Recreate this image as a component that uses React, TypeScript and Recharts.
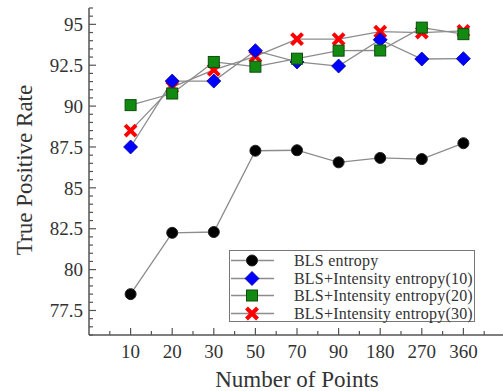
import React from 'react';
import { LineChart, Line, XAxis, YAxis } from 'recharts';

// categories on the x axis (drawn at index positions 1..9)
const categories = ['10', '20', '30', '50', '70', '90', '180', '270', '360'];

// series values
const blsEntropy = [78.5, 82.25, 82.3, 87.27, 87.3, 86.56, 86.83, 86.76, 87.73];
const intensity10 = [87.5, 91.53, 91.53, 93.39, 92.7, 92.45, 94.06, 92.88, 92.9];
const intensity20 = [90.06, 90.77, 92.7, 92.41, 92.9, 93.39, 93.4, 94.8, 94.4];
const intensity30 = [88.5, 91.16, 92.22, 93.04, 94.1, 94.1, 94.55, 94.5, 94.6];

const yMajorTicks = [77.5, 80, 82.5, 85, 87.5, 90, 92.5, 95];
const yTicks = Array.from({ length: 41 }, (_, i) => 76 + i * 0.5);
const xTicks = Array.from({ length: 20 }, (_, i) => i * 0.5 + 0.5);

const data = categories.map((label, i) => ({
    idx: i + 1,
    label,
    bls: blsEntropy[i],
    i10: intensity10[i],
    i20: intensity20[i],
    i30: intensity30[i],
}));

const FONT = '"Liberation Serif", "Times New Roman", serif';
const AXIS = '#555';
const LINE = '#8c8c8c';
const TEXT = '#333';

type Kind = 'circle' | 'diamond' | 'square' | 'cross';

const Marker = ({ kind, cx, cy }: { kind: Kind; cx: number; cy: number }) => {
    if (kind === 'circle') return <circle cx={cx} cy={cy} r={5.5} fill="#000" stroke="#222" />;
    if (kind === 'diamond')
        return (
            <path
                d={`M${cx},${cy - 7}L${cx + 7},${cy}L${cx},${cy + 7}L${cx - 7},${cy}Z`}
                fill="#0000ff"
                stroke="#0000a0"
                strokeWidth={0.8}
            />
        );
    if (kind === 'square')
        return <rect x={cx - 5.5} y={cy - 5.5} width={11} height={11} fill="#128a12" stroke="#0b4d0b" strokeWidth={1} />;
    return (
        <g stroke="#ff0000" strokeWidth={4}>
            <line x1={cx - 5.5} y1={cy - 5.5} x2={cx + 5.5} y2={cy + 5.5} />
            <line x1={cx - 5.5} y1={cy + 5.5} x2={cx + 5.5} y2={cy - 5.5} />
        </g>
    );
};

const makeDot = (kind: Kind) => (p: any) =>
    <Marker key={`${kind}-${p.index}`} kind={kind} cx={p.cx} cy={p.cy} />;

const XTick = (props: any) => {
    const { x, y, payload } = props;
    const v = payload.value;
    const major = Number.isInteger(v);
    return (
        <g>
            <line x1={x} x2={x} y1={y} y2={y - (major ? 7 : 4)} stroke={AXIS} strokeWidth={1.2} />
            {major && v >= 1 && v <= 9 && (
                <text x={x} y={y + 23} textAnchor="middle" style={{ fontFamily: FONT, fontSize: 19, fill: TEXT }}>
                    {categories[v - 1]}
                </text>
            )}
        </g>
    );
};

const YTick = (props: any) => {
    const { x, y, payload } = props;
    const v = payload.value;
    const major = yMajorTicks.includes(v);
    return (
        <g>
            <line x1={x} x2={x + (major ? 7 : 4)} y1={y} y2={y} stroke={AXIS} strokeWidth={1.2} />
            {major && (
                <text x={x - 6} y={y} dy="0.35em" textAnchor="end" style={{ fontFamily: FONT, fontSize: 19, fill: TEXT }}>
                    {v}
                </text>
            )}
        </g>
    );
};

const legendItems: { name: string; kind: Kind }[] = [
    { name: 'BLS entropy', kind: 'circle' },
    { name: 'BLS+Intensity entropy(10)', kind: 'diamond' },
    { name: 'BLS+Intensity entropy(20)', kind: 'square' },
    { name: 'BLS+Intensity entropy(30)', kind: 'cross' },
];

const LegendBox = () => (
    <div
        style={{
            position: 'absolute',
            left: 229,
            top: 250,
            border: '1.5px solid #777',
            background: '#fff',
            width: 244,
            height: 69,
            paddingTop: 1,
        }}
    >
        {legendItems.map((it) => (
            <div key={it.name} style={{ display: 'flex', alignItems: 'center', height: 17.5 }}>
                <svg width={46} height={17} style={{ display: 'block' }}>
                    <line x1={1} x2={44} y1={8.5} y2={8.5} stroke={LINE} strokeWidth={1.3} />
                    <Marker kind={it.kind} cx={22} cy={8.5} />
                </svg>
                <span
                    style={{
                        marginLeft: 18,
                        fontFamily: FONT,
                        fontSize: 16,
                        lineHeight: '17px',
                        color: TEXT,
                        whiteSpace: 'nowrap',
                        letterSpacing: 0.2,
                    }}
                >
                    {it.name}
                </span>
            </div>
        ))}
    </div>
);

export default function App() {
    return (
        <div style={{ position: 'absolute', left: 0, top: 0, width: 503, height: 391, overflow: 'hidden', background: '#fff' }}>
            <LineChart width={520} height={391} data={data} margin={{ top: 8, right: 15, left: 0, bottom: 0 }}>
                <XAxis
                    dataKey="idx"
                    type="number"
                    domain={[0, 10]}
                    ticks={xTicks}
                    interval={0}
                    tickSize={0}
                    tickMargin={0}
                    tickLine={false}
                    tick={<XTick />}
                    height={56}
                    stroke={AXIS}
                    strokeWidth={1.5}
                />
                <XAxis
                    xAxisId="top"
                    dataKey="idx"
                    type="number"
                    domain={[0, 10]}
                    orientation="top"
                    tick={false}
                    tickLine={false}
                    height={0}
                    stroke={AXIS}
                    strokeWidth={1.5}
                />
                <YAxis
                    type="number"
                    domain={[76, 96]}
                    ticks={yTicks}
                    interval={0}
                    tickSize={0}
                    tickMargin={0}
                    tickLine={false}
                    tick={<YTick />}
                    width={89}
                    stroke={AXIS}
                    strokeWidth={1.5}
                />
                <Line dataKey="bls" stroke={LINE} strokeWidth={1.3} dot={makeDot('circle')} activeDot={false} isAnimationActive={false} />
                <Line dataKey="i30" stroke={LINE} strokeWidth={1.3} dot={makeDot('cross')} activeDot={false} isAnimationActive={false} />
                <Line dataKey="i10" stroke={LINE} strokeWidth={1.3} dot={makeDot('diamond')} activeDot={false} isAnimationActive={false} />
                <Line dataKey="i20" stroke={LINE} strokeWidth={1.3} dot={makeDot('square')} activeDot={false} isAnimationActive={false} />
            </LineChart>
            <svg width={503} height={391} style={{ position: 'absolute', left: 0, top: 0, pointerEvents: 'none' }}>
                <text x={297} y={387} textAnchor="middle" style={{ fontFamily: FONT, fontSize: 23, fill: TEXT }}>
                    Number of Points
                </text>
                <text
                    x={32}
                    y={170}
                    transform="rotate(-90 32 170)"
                    textAnchor="middle"
                    style={{ fontFamily: FONT, fontSize: 23, fill: TEXT }}
                >
                    True Positive Rate
                </text>
            </svg>
            <LegendBox />
        </div>
    );
}
